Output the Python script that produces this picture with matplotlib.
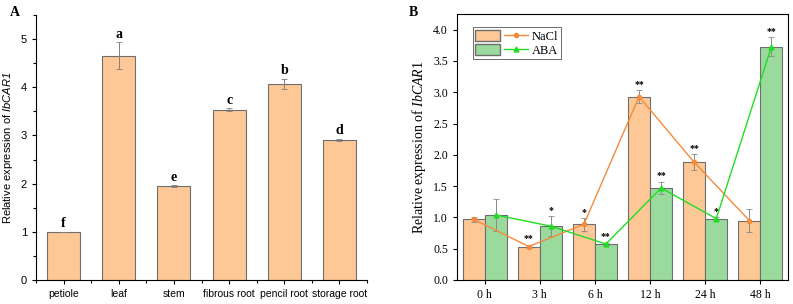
import numpy as np
import matplotlib
matplotlib.use("Agg")
from matplotlib import pyplot as plt
from matplotlib.legend_handler import HandlerTuple
from matplotlib.patches import Patch
from matplotlib.lines import Line2D
from matplotlib.ticker import MultipleLocator, FixedLocator, FormatStrFormatter

# panel A data
tissues = ["petiole", "leaf", "stem", "fibrous root", "pencil root", "storage root"]
tissue_expr = [1.0, 4.65, 1.95, 3.53, 4.07, 2.91]
tissue_err = [0.0, 0.28, 0.02, 0.03, 0.11, 0.02]
tissue_sig = ["f", "a", "e", "c", "b", "d"]

# panel B data
times = ["0 h", "3 h", "6 h", "12 h", "24 h", "48 h"]
nacl = [0.97, 0.535, 0.89, 2.93, 1.88, 0.95]
nacl_err = [0.04, 0.03, 0.1, 0.1, 0.13, 0.19]
nacl_sig = ["", "**", "*", "**", "**", ""]
aba = [1.04, 0.86, 0.575, 1.47, 0.98, 3.73]
aba_err = [0.26, 0.16, 0.02, 0.1, 0.02, 0.15]
aba_sig = ["", "*", "**", "**", "*", "**"]

orange = "#FDC896"
green = "#9ADA9C"
edge = "#6E6E6E"
sans = ["Liberation Sans", "DejaVu Sans"]
serif = ["Liberation Serif", "DejaVu Serif"]

plt.rcParams["mathtext.fontset"] = "custom"
plt.rcParams["mathtext.it"] = "Liberation Serif:italic"
plt.rcParams["mathtext.rm"] = "Liberation Serif"
plt.rcParams["mathtext.sf"] = "Liberation Sans:italic"

fig = plt.figure(figsize=(7.93, 3.04), dpi=100)

# ---- A ----
ax1 = fig.add_axes([36/793, 1-280/304, (367-36)/793, (280-15)/304])
x = np.arange(len(tissues))
ax1.bar(x, tissue_expr, width=0.6, color=orange, edgecolor=edge, linewidth=0.8, zorder=2)
ax1.errorbar(x, tissue_expr, yerr=tissue_err, fmt="none", ecolor="#808080",
             elinewidth=0.7, capsize=2, capthick=0.6, zorder=3)
for i in range(len(x)):
    ax1.text(x[i], tissue_expr[i] + tissue_err[i] + 0.03, tissue_sig[i], ha="center", va="bottom",
             fontsize=10, fontweight="bold", family=serif)
ax1.set_xlim(-0.5, 5.5)
ax1.set_ylim(0, 5.5)
ax1.set_xticks(x)
ax1.set_xticklabels(tissues, family=sans, fontsize=7.5)
ax1.xaxis.set_minor_locator(FixedLocator(np.arange(-0.5, 6, 1)))
ax1.yaxis.set_major_locator(MultipleLocator(1))
ax1.yaxis.set_minor_locator(MultipleLocator(0.5))
for lab in ax1.get_yticklabels():
    lab.set_family(sans)
    lab.set_fontsize(8)
ax1.tick_params(direction="out", length=3, width=0.8)
ax1.tick_params(which="minor", direction="out", length=2, width=0.8)
ax1.spines["top"].set_visible(False)
ax1.spines["right"].set_visible(False)
ax1.set_ylabel("Relative expression of $\\mathsf{IbCAR1}$", family=sans, fontsize=8, labelpad=4)
fig.text(10/793, 1-12/304, "A", family=serif, fontweight="bold", fontsize=10, va="center")

# ---- B ----
ax2 = fig.add_axes([457/793, 1-280/304, (788-457)/793, (280-14)/304])
x2 = np.arange(len(times))
ax2.bar(x2 - 0.2, nacl, width=0.4, color=orange, edgecolor=edge, linewidth=0.8, zorder=2)
ax2.bar(x2 + 0.2, aba, width=0.4, color=green, edgecolor=edge, linewidth=0.8, zorder=2)
ax2.errorbar(x2 - 0.2, nacl, yerr=nacl_err, fmt="none", ecolor="#8a8a8a",
             elinewidth=0.7, capsize=2, capthick=0.6, zorder=3)
ax2.errorbar(x2 + 0.2, aba, yerr=aba_err, fmt="none", ecolor="#8a8a8a",
             elinewidth=0.7, capsize=2, capthick=0.6, zorder=3)
ax2.plot(x2 - 0.2, nacl, color="#F58A3C", marker="o", markersize=3, linewidth=1, zorder=4)
ax2.plot(x2 + 0.2, aba, color="#22DD22", marker="^", markersize=3.5, linewidth=1, zorder=4)
for i in range(len(x2)):
    if nacl_sig[i]:
        ax2.text(x2[i] - 0.2, nacl[i] + nacl_err[i] + 0.02, nacl_sig[i], ha="center", va="bottom",
                 fontsize=7, fontweight="bold", family=serif)
    if aba_sig[i]:
        ax2.text(x2[i] + 0.2, aba[i] + aba_err[i] + 0.02, aba_sig[i], ha="center", va="bottom",
                 fontsize=7, fontweight="bold", family=serif)
ax2.set_xlim(-0.5, 5.5)
ax2.set_ylim(0, 4.25)
ax2.set_xticks(x2)
ax2.set_xticklabels(times, family=serif, fontsize=8.5)
ax2.yaxis.set_major_locator(MultipleLocator(0.5))
ax2.yaxis.set_major_formatter(FormatStrFormatter("%.1f"))
for lab in ax2.get_yticklabels():
    lab.set_family(serif)
    lab.set_fontsize(8.5)
ax2.tick_params(direction="out", length=3, width=0.8)
ax2.set_ylabel("Relative expression of $\\mathit{IbCAR1}$", family=serif, fontsize=10, labelpad=4)
h1 = (Patch(facecolor=orange, edgecolor=edge), Line2D([], [], color="#F58A3C", marker="o", markersize=3, lw=1))
h2 = (Patch(facecolor=green, edgecolor=edge), Line2D([], [], color="#22DD22", marker="^", markersize=3.5, lw=1))
leg = ax2.legend([h1, h2], ["NaCl", "ABA"], handler_map={tuple: HandlerTuple(ndivide=None, pad=0.3)},
                 loc="upper left", bbox_to_anchor=(0.048, 0.95), prop={"family": serif, "size": 9},
                 fancybox=False, edgecolor="#555555", framealpha=1, handlelength=4.2,
                 handleheight=1.0, labelspacing=0.1, borderpad=0.2, handletextpad=0.3,
                 borderaxespad=0)
leg.get_frame().set_linewidth(0.6)
fig.text(409/793, 1-12/304, "B", family=serif, fontweight="bold", fontsize=10, va="center")

fig.savefig("out.png", dpi=100)
